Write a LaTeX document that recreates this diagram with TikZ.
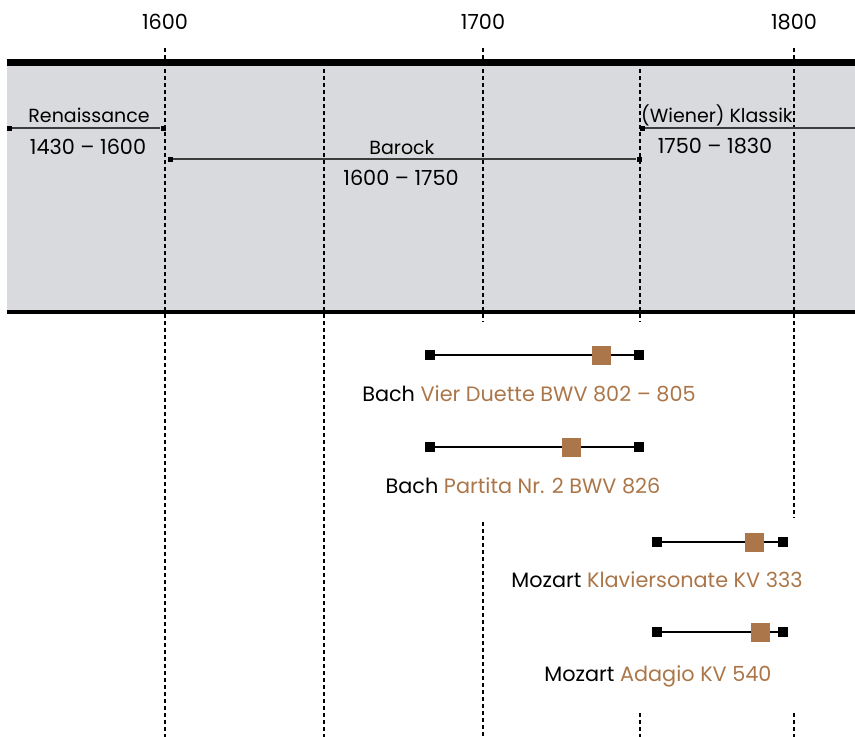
\documentclass[tikz,border=0pt]{standalone}
\usepackage{fontspec}
\setmainfont{Poppins}
\usetikzlibrary{positioning}
\definecolor{BandGray}{RGB}{217,218,221}
\definecolor{WorkBrown}{RGB}{171,118,73}
\definecolor{EraGray}{RGB}{60,60,60}
\tikzset{
  lbl/.style={font=\fontsize{20.8}{24}\selectfont,inner sep=0pt,anchor=base},
  eralbl/.style={lbl,font=\fontsize{19}{23}\selectfont},
  gridline/.style={line width=1.2pt,dash pattern=on 4pt off 3pt},
  rule/.style={line width=#1,black},
  eraend/.style={fill=black,minimum size=5pt,inner sep=0pt},
  eraline/.style={EraGray,line width=1.4pt},
  lifeend/.style={fill=black,minimum size=10pt,inner sep=0pt},
  lifeline/.style={black,line width=2.6pt},
  workmark/.style={fill=WorkBrown,minimum size=19pt,inner sep=0pt}
}

\begin{document}
\begin{tikzpicture}[x=1pt,y=-1pt]
  \useasboundingbox (0,0) rectangle (855,737);
  \fill[BandGray] (7,62) rectangle (855,312);
  % year grid
  \draw[gridline] (165,48) -- (165,737);
  \draw[gridline] (324,62) -- (324,737);
  \draw[gridline] (483,48) -- (483,322) (483,522) -- (483,737);
  \draw[gridline] (640,62) -- (640,322) (640,713) -- (640,737);
  \draw[gridline] (794,48) -- (794,518) (794,713) -- (794,737);
  \draw[rule=7pt] (7,62) -- (855,62);
  \draw[rule=4pt] (7,312) -- (855,312);
  \node[lbl] (yr1600) at (165,29) {1600};
  \node[lbl] (yr1700) at (483,29) {1700};
  \node[lbl] (yr1800) at (794,29) {1800};

  % eras
  \node[eraend] (ren-a) at (9,128) {};
  \node[eraend] (ren-b) at (163,128) {};
  \draw[eraline] (ren-a) -- (ren-b);
  \node[eralbl] (ren-name) at (89,122) {Renaissance};
  \node[lbl] (ren-span) at (88,154) {1430 – 1600};
  \node[eraend] (bar-a) at (170,159) {};
  \node[eraend] (bar-b) at (639,159) {};
  \draw[eraline] (bar-a) -- (bar-b);
  \node[eralbl] (bar-name) at (402,154) {Barock};
  \node[lbl] (bar-span) at (401,185) {1600 – 1750};
  \node[eraend] (kla-a) at (642,128) {};
  \coordinate (kla-b) at (855,128);
  \draw[eraline] (kla-a) -- (kla-b);
  \node[eralbl] (kla-name) at (717,122) {(Wiener) Klassik};
  \node[lbl] (kla-span) at (715,153) {1750 – 1830};

  % works
  \node[lifeend] (bach1-a) at (430,355) {};
  \node[lifeend] (bach1-b) at (639,355) {};
  \draw[lifeline] (bach1-a) -- (bach1-b);
  \node[workmark] (duette) at (601,355) {};
  \node[lbl] (duette-lbl) at (529,401) {Bach \textcolor{WorkBrown}{Vier Duette BWV 802 – 805}};

  \node[lifeend] (bach2-a) at (430,447) {};
  \node[lifeend] (bach2-b) at (639,447) {};
  \draw[lifeline] (bach2-a) -- (bach2-b);
  \node[workmark] (partita) at (571,447) {};
  \node[lbl] (partita-lbl) at (523,493) {Bach \textcolor{WorkBrown}{Partita Nr. 2 BWV 826}};

  \node[lifeend] (moz1-a) at (657,542) {};
  \node[lifeend] (moz1-b) at (783,542) {};
  \draw[lifeline] (moz1-a) -- (moz1-b);
  \node[workmark] (kv333) at (754,542) {};
  \node[lbl] (kv333-lbl) at (657,587) {Mozart \textcolor{WorkBrown}{Klaviersonate KV 333}};

  \node[lifeend] (moz2-a) at (657,632) {};
  \node[lifeend] (moz2-b) at (783,632) {};
  \draw[lifeline] (moz2-a) -- (moz2-b);
  \node[workmark] (kv540) at (760,632) {};
  \node[lbl] (kv540-lbl) at (658,681) {Mozart \textcolor{WorkBrown}{Adagio KV 540}};
\end{tikzpicture}
\end{document}
